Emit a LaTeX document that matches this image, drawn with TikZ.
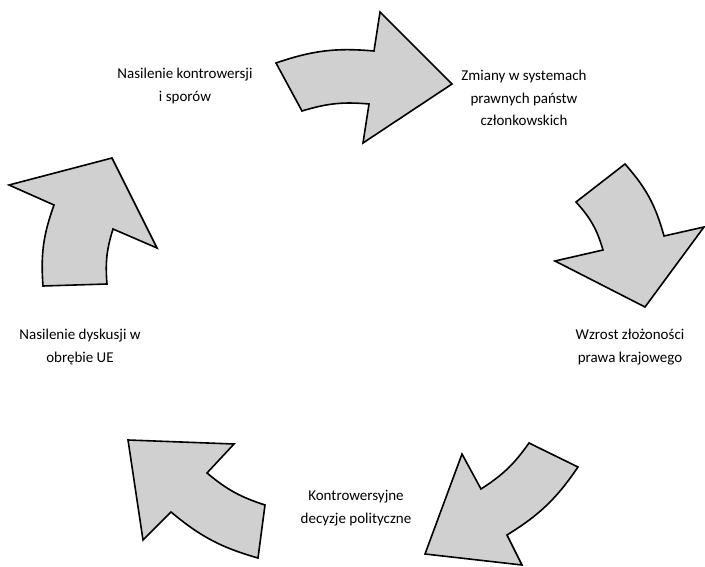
\documentclass[tikz,border=0pt]{standalone}
\usepackage{fontspec}
\setmainfont{Carlito}
\definecolor{arrowfill}{RGB}{208,208,208}
\begin{document}
\begin{tikzpicture}[x=1pt,y=1pt,
  cyclearrow/.style={draw=black,fill=arrowfill,line width=1.6pt,line join=miter},
  lbl/.style={align=center,font=\fontsize{15}{22.5}\selectfont,text=black,inner sep=0pt}]
\useasboundingbox (0,0) rectangle (705,566);
% arrow 1 (top)
\path[cyclearrow] (276,503) to[bend left=12] (374,515) -- (380,554) -- (452,482) -- (363,423) -- (369,462) to[bend right=11] (302,455) -- cycle;
% arrow 2 (right)
\path[cyclearrow] (576,364) -- (625,402) to[bend left=13] (664,330) -- (704,339) -- (645,259) -- (555,305) -- (603,316) to[bend right=13] (576,364) -- cycle;
% arrow 3 (bottom right)
\path[cyclearrow] (529,123) -- (578,99) to[bend left=12] (507,31) -- (522,1) -- (425,12) -- (462,112) -- (481,77) to[bend right=11] (529,123) -- cycle;
% arrow 4 (bottom left)
\path[cyclearrow] (128,126) -- (234,122) -- (207,93) to[bend right=11] (265,61) -- (258,8) to[bend left=12] (171,54) -- (143,26) -- cycle;
% arrow 5 (left)
\path[cyclearrow] (43,280) -- (107,282) to[bend left=11] (113,337) -- (157,318) -- (112,408) -- (9,381) -- (54,361) to[bend right=12] (43,280) -- cycle;
% labels
\node[lbl] (l1) at (185,480) {Nasilenie kontrowersji\\i sporów};
\node[lbl] (l2) at (524,468) {Zmiany w systemach\\prawnych państw\\członkowskich};
\node[lbl] (l3) at (630,219) {Wzrost złożoności\\prawa krajowego};
\node[lbl] (l4) at (356,58) {Kontrowersyjne\\decyzje polityczne};
\node[lbl] (l5) at (80,219) {Nasilenie dyskusji w\\obrębie UE};
\end{tikzpicture}
\end{document}
